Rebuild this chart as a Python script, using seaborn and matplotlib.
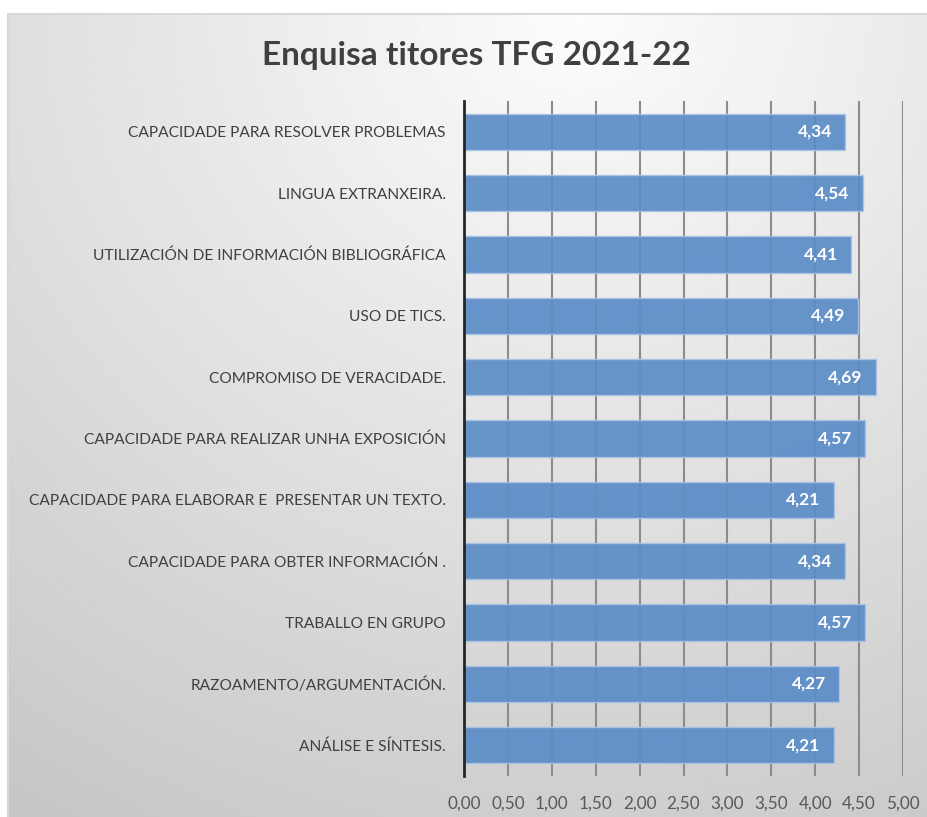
import numpy as np
import pandas as pd
import seaborn as sns
import matplotlib.pyplot as plt

categories = [
    'CAPACIDADE PARA RESOLVER PROBLEMAS',
    'LINGUA EXTRANXEIRA.',
    'UTILIZACIÓN DE INFORMACIÓN BIBLIOGRÁFICA',
    'USO DE TICS.',
    'COMPROMISO DE VERACIDADE.',
    'CAPACIDADE PARA REALIZAR UNHA EXPOSICIÓN',
    'CAPACIDADE PARA ELABORAR E  PRESENTAR UN TEXTO.',
    'CAPACIDADE PARA OBTER INFORMACIÓN .',
    'TRABALLO EN GRUPO',
    'RAZOAMENTO/ARGUMENTACIÓN.',
    'ANÁLISE E SÍNTESIS.',
]
scores = [4.34, 4.54, 4.41, 4.49, 4.69, 4.57, 4.21, 4.34, 4.57, 4.27, 4.21]
x_ticks = [0, 0.5, 1, 1.5, 2, 2.5, 3, 3.5, 4, 4.5, 5]

title = 'Enquisa titores TFG 2021-22'
bar_color = '#5b8cc6'
text_color = '#404040'

sns.set_style('white')
plt.rcParams['font.family'] = ['Lato', 'DejaVu Sans']

df = pd.DataFrame({'Competencia': categories, 'Media': scores})

W, H = 927, 817
fig = plt.figure(figsize=(W / 100, H / 100), dpi=100)

# gradient background of the chart area (Excel style)
bg = fig.add_axes([0, 0, 1, 1], zorder=-1)
yy, xx = np.mgrid[0:1:400j, 0:1:460j]
dist = np.sqrt(((xx - 0.62) / 1.0) ** 2 + ((yy - 0.0) / 1.05) ** 2)
shade = np.clip(0.99 - 0.19 * dist, 0.78, 1.0)
bg.imshow(shade, cmap='gray', vmin=0, vmax=1, aspect='auto',
          extent=[8 / W, 1, 0, 1 - 14 / H], origin='upper')
bg.plot([8 / W, 8 / W, 1], [0, 1 - 14 / H, 1 - 14 / H], color='#d9d9d9', lw=1.5)
bg.set_xlim(0, 1)
bg.set_ylim(0, 1)
bg.axis('off')

ax = fig.add_axes([464 / W, 1 - 776 / H, 439 / W, 675 / H])
ax.patch.set_alpha(0)
sns.barplot(data=df, y='Competencia', x='Media', orient='h', color=bar_color,
            width=0.59, alpha=0.92, edgecolor='#a9c4e6', linewidth=1.0,
            saturation=1, ax=ax, zorder=3)

ax.set_xlim(0, 5)
ax.set_ylim(10.5, -0.5)
ax.set_xticks(x_ticks)
ax.set_xticklabels([f'{t:.2f}'.replace('.', ',') for t in x_ticks],
                   fontsize=12.3, color='#595959')
ax.tick_params(axis='x', length=0, pad=14)
ax.tick_params(axis='y', length=0, pad=13, labelsize=11.2, labelcolor=text_color)
ax.set_xlabel('')
ax.set_ylabel('')

for t in x_ticks[1:]:
    ax.axvline(t, color='#8c8c8c', lw=1.5, zorder=1)
for s in ['top', 'right', 'bottom']:
    ax.spines[s].set_visible(False)
ax.spines['left'].set_color('#262626')
ax.spines['left'].set_linewidth(2)
ax.spines['left'].set_zorder(5)

for i, v in enumerate(scores):
    ax.text(v - 0.15, i, f'{v:.2f}'.replace('.', ','), ha='right', va='center',
            color='white', fontsize=12.5, fontweight='bold', zorder=6)

fig.text(476 / W, 1 - 56 / H, title, ha='center', va='center',
         fontsize=24, fontweight='bold', color=text_color)

fig.savefig('out.png', dpi=100)
